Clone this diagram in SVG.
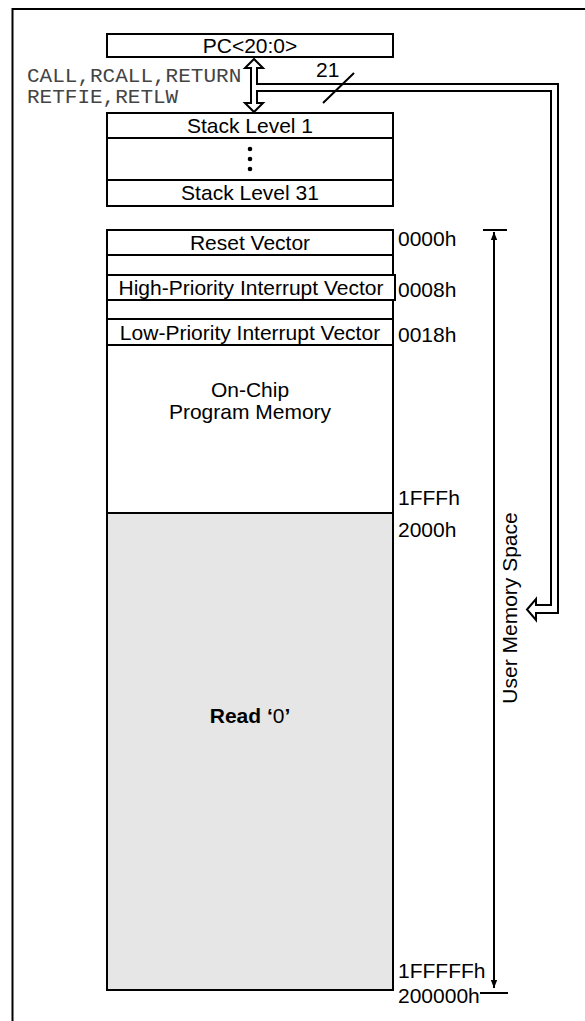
<svg xmlns="http://www.w3.org/2000/svg" width="585" height="1021" viewBox="0 0 585 1021">
<style>
.box{fill:#fff;stroke:#000;stroke-width:2}
.ln{stroke:#000;stroke-width:2;fill:none}
.t{font-family:"Liberation Sans",Arial,sans-serif;font-size:21px;fill:#000}
.c{text-anchor:middle}
.m{font-family:"Liberation Mono","Courier New",monospace;font-size:21px;fill:#444}
</style>
<defs>
<marker id="ah" viewBox="0 0 10 10" refX="10" refY="5" markerWidth="8" markerHeight="8" markerUnits="userSpaceOnUse" orient="auto">
<path d="M0,1 L10,5 L0,9 Z" fill="#000"/>
</marker>
</defs>
<rect width="585" height="1021" fill="#fff"/>
<g id="frame">
<path class="ln" d="M12.5,1021 V9 H585"/>
</g>
<g id="pc">
<rect class="box" x="107" y="34" width="286" height="23"/>
<text class="t c" x="250" y="53">PC&lt;20:0&gt;</text>
</g>
<g id="stack">
<rect class="box" x="107" y="113" width="286" height="93"/>
<line class="ln" x1="107" y1="138" x2="393" y2="138"/>
<line class="ln" x1="107" y1="180" x2="393" y2="180"/>
<text class="t c" x="250" y="133">Stack Level 1</text>
<circle cx="250" cy="149" r="2.3"/>
<circle cx="250" cy="159" r="2.3"/>
<circle cx="250" cy="169" r="2.3"/>
<text class="t c" x="250" y="200">Stack Level 31</text>
</g>
<g id="labels">
<text class="m" x="27" y="82">CALL,RCALL,RETURN</text>
<text class="m" x="27" y="103">RETFIE,RETLW</text>
<text class="t" x="316" y="77">21</text>
</g>
<g id="connectors">
<path class="ln" fill="#fff" d="M254,59 L263,68 L257,68 L257,84 L558,84 L558,613 L536,613 L536,620 L527,609.5 L536,599 L536,605 L551,605 L551,91 L257,91 L257,103 L263,103 L254,112 L245,103 L251,103 L251,68 L245,68 Z"/>
<line class="ln" x1="323" y1="103" x2="354" y2="73"/>
<line class="ln" x1="494" y1="988" x2="494" y2="232" marker-end="url(#ah)"/>
<line class="ln" x1="494" y1="232" x2="494" y2="988" marker-end="url(#ah)"/>
<line class="ln" x1="483" y1="230" x2="507" y2="230"/>
<line class="ln" x1="480" y1="993" x2="508" y2="993"/>
</g>
<g id="memory">
<rect class="box" x="107" y="230" width="286" height="760"/>
<rect x="108" y="513" width="284" height="476" fill="#e6e6e6"/>
<line class="ln" x1="107" y1="513" x2="393" y2="513"/>
<line class="ln" x1="107" y1="255" x2="393" y2="255"/>
<rect class="box" x="107" y="275" width="288" height="25"/>
<rect class="box" x="107" y="319" width="286" height="26"/>
<text class="t c" x="250" y="250">Reset Vector</text>
<text class="t c" x="251" y="295">High-Priority Interrupt Vector</text>
<text class="t c" x="250" y="340">Low-Priority Interrupt Vector</text>
<text class="t c" x="250" y="397">On-Chip</text>
<text class="t c" x="250" y="419">Program Memory</text>
<text class="t c" x="250" y="723"><tspan font-weight="bold">Read ‘</tspan>0<tspan font-weight="bold">’</tspan></text>
</g>
<g id="addresses">
<text class="t" x="398" y="246">0000h</text>
<text class="t" x="398" y="297">0008h</text>
<text class="t" x="398" y="342">0018h</text>
<text class="t" x="398" y="505">1FFFh</text>
<text class="t" x="398" y="537">2000h</text>
<text class="t" x="398" y="978">1FFFFFh</text>
<text class="t" x="398" y="1003">200000h</text>
<text class="t c" transform="translate(517,608) rotate(-90)" x="0" y="0">User Memory Space</text>
</g>
</svg>
